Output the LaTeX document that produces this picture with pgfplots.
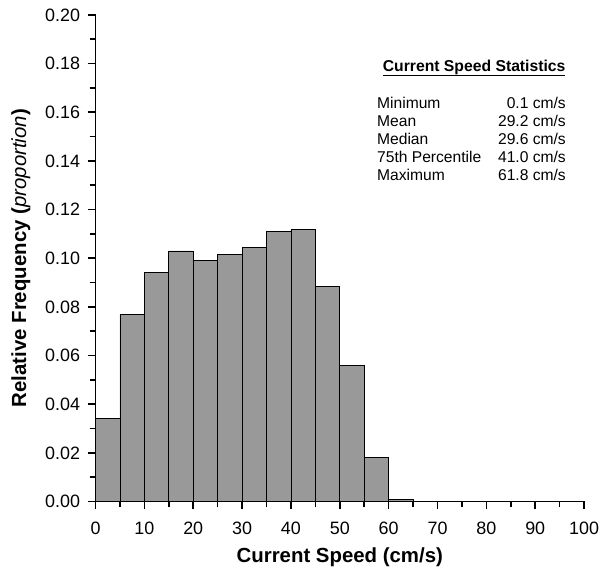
\documentclass[border=0pt]{standalone}
\usepackage{fontspec}
\setmainfont{Liberation Sans}
\usepackage{pgfplots}
\pgfplotsset{compat=1.18}

\pgfplotstableread{
x y
0 0.034
5 0.077
10 0.094
15 0.103
20 0.099
25 0.1015
30 0.1045
35 0.111
40 0.112
45 0.0885
50 0.056
55 0.018
60 0.001
65 0
70 0
75 0
80 0
85 0
90 0
95 0
100 0
}\speeddata

\begin{document}
\begin{tikzpicture}
\path[use as bounding box] (-96pt,-69pt) rectangle (507pt,504pt);
\begin{axis}[
    at={(0,0)}, anchor=south west,
    scale only axis,
    width=491pt, height=489pt,
    xmin=0, xmax=100, ymin=0, ymax=0.2,
    axis x line=bottom, axis y line=left,
    axis line style={-, line width=1.6pt},
    tick align=outside,
    xtick={0,10,...,100}, minor xtick={5,15,...,95},
    ytick={0,0.02,...,0.2001}, minor ytick={0.01,0.03,...,0.2},
    major tick length=8pt, minor tick length=6pt,
    every tick/.style={line width=1.6pt, black},
    scaled y ticks=false,
    /pgf/number format/assume math mode=true,
    ticklabel style={font=\fontsize{18}{20}\selectfont},
    xticklabel style={yshift=-9pt},
    yticklabel style={xshift=-4pt, /pgf/number format/.cd, fixed, fixed zerofill, precision=2},
    xlabel={\textbf{Current Speed (cm/s)}},
    ylabel={\textbf{Relative Frequency (}\textit{proportion}\textbf{)}},
    label style={font=\fontsize{20.5}{23}\selectfont},
    xlabel style={at={(axis description cs:0.5,-0.1145)}, anchor=center},
    ylabel style={at={(axis description cs:-0.1527,0.5)}, anchor=center},
    clip=false,
]
\addplot[ybar interval, fill=black!40, draw=black, line width=0.8pt] table[x=x, y=y] {\speeddata};
\node[font=\fontsize{15.8}{18}\selectfont\bfseries] at (axis cs:77.5,0.1782) {\underline{Current Speed Statistics}};
\begin{scope}[every node/.style={font=\fontsize{15.7}{18}\selectfont, inner sep=0pt}]
\node[anchor=west] at (axis cs:57.6,0.1639) {Minimum};
\node[anchor=west] at (axis cs:57.6,0.1564) {Mean};
\node[anchor=west] at (axis cs:57.6,0.1492) {Median};
\node[anchor=west] at (axis cs:57.6,0.1418) {75th Percentile};
\node[anchor=west] at (axis cs:57.6,0.1343) {Maximum};
\node[anchor=east] at (axis cs:96.3,0.1639) {0.1 cm/s};
\node[anchor=east] at (axis cs:96.3,0.1564) {29.2 cm/s};
\node[anchor=east] at (axis cs:96.3,0.1492) {29.6 cm/s};
\node[anchor=east] at (axis cs:96.3,0.1418) {41.0 cm/s};
\node[anchor=east] at (axis cs:96.3,0.1343) {61.8 cm/s};
\end{scope}
\end{axis}
\end{tikzpicture}
\end{document}
